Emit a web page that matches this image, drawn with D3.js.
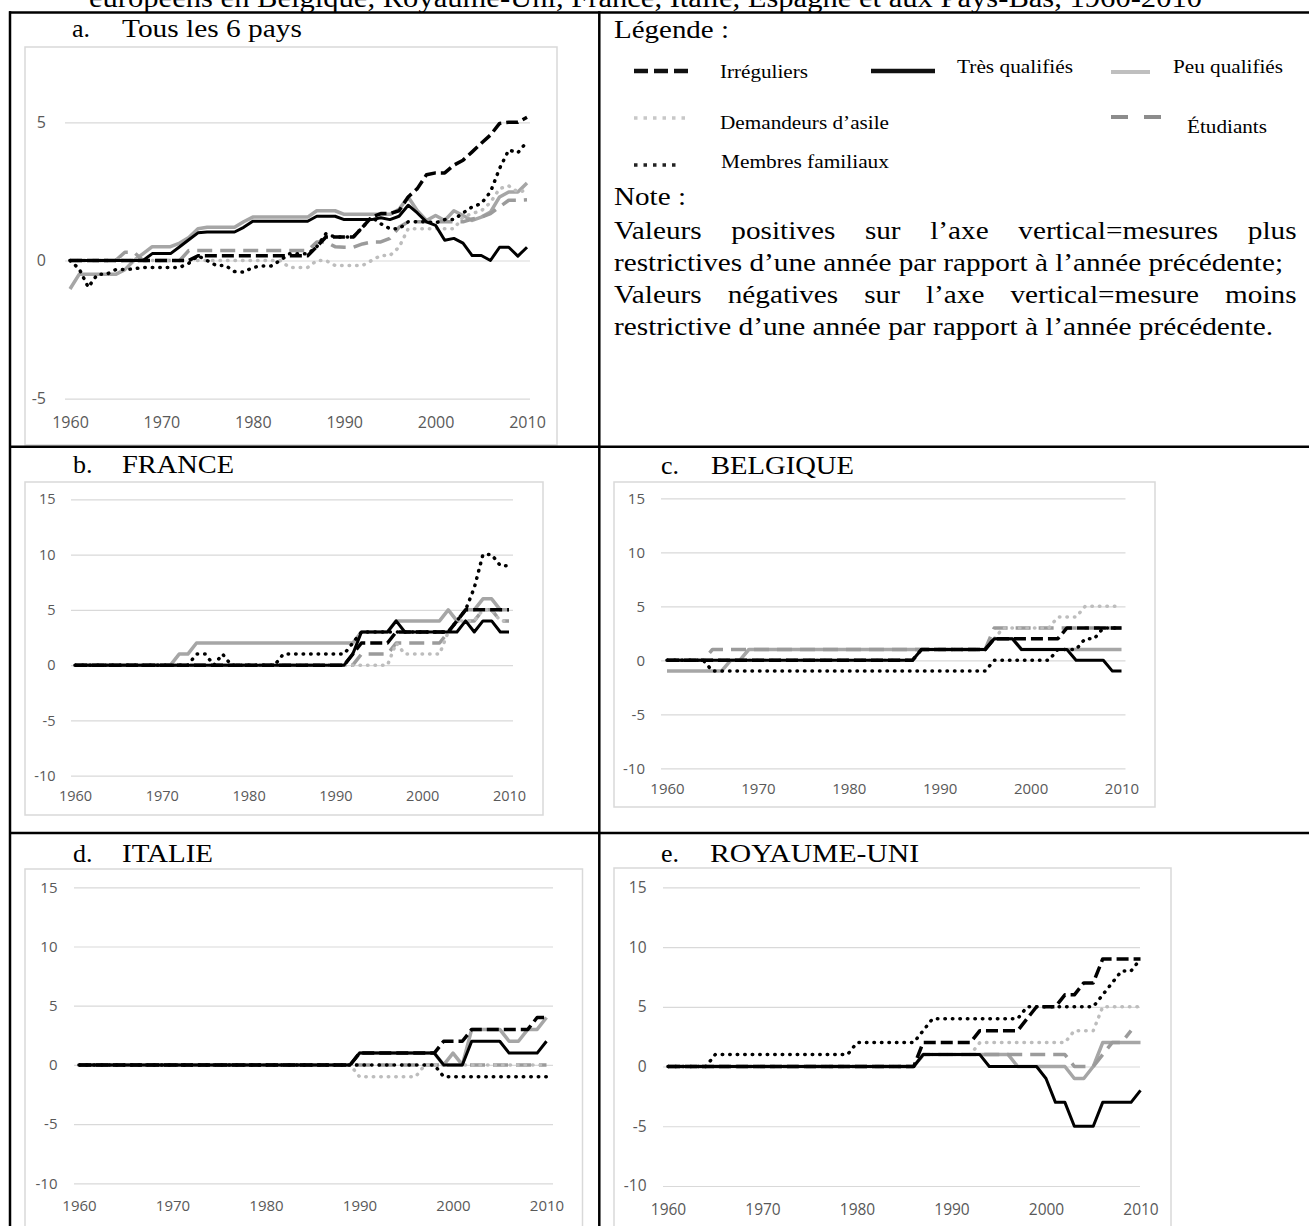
<!DOCTYPE html>
<html><head><meta charset="utf-8">
<script src="https://cdn.jsdelivr.net/npm/d3@7"></script>
<style>html,body{margin:0;padding:0;background:#fff}svg{display:block}</style>
</head><body>
<svg id="c" width="1309" height="1226"></svg>
<script>
// ---------- categories & tick labels ----------
const years = d3.range(1960, 2011);
const xTicks = [1960, 1970, 1980, 1990, 2000, 2010];
const yTicksAll = [-5, 0, 5];
const yTicksCountry = [-10, -5, 0, 5, 10, 15];
const seriesKeys = ["irr", "tq", "pq", "asile", "etu", "fam"];
const seriesNames = ["Irréguliers", "Très qualifiés", "Peu qualifiés", "Demandeurs d’asile", "Étudiants", "Membres familiaux"];

// ---------- a. Tous les 6 pays ----------
const irr_all = [0,0,0,0,0,0,0,0,0,0, 0,0,0,0,0.17,0.17,0.17,0.17,0.17,0.17, 0.17,0.17,0.17,0.17,0.17,0.17,0.17,0.5,0.85,0.85, 0.85,0.85,1.2,1.57,1.7,1.7,1.8,2.3,2.6,3.1, 3.17,3.17,3.45,3.63,3.93,4.24,4.54,4.96,5,5, 5.18];
const tq_all = [0,0,0,0,0,0,0,0,0,0.25, 0.25,0.25,0.5,0.75,1,1.03,1.03,1.03,1.03,1.2, 1.42,1.42,1.42,1.42,1.42,1.42,1.42,1.6,1.6,1.6, 1.48,1.48,1.48,1.48,1.55,1.48,1.6,2,1.72,1.4, 1.27,0.73,0.8,0.63,0.18,0.18,0,0.48,0.48,0.16, 0.48];
const pq_all = [-1.03,-0.5,-0.5,-0.5,-0.5,-0.5,-0.33,0,0.25,0.5, 0.5,0.5,0.63,0.83,1.15,1.2,1.2,1.2,1.2,1.4, 1.57,1.57,1.57,1.57,1.57,1.57,1.57,1.8,1.8,1.8, 1.67,1.67,1.67,1.67,1.67,1.67,1.85,2.3,1.8,1.45, 1.63,1.45,1.8,1.63,1.45,1.57,1.75,2.3,2.48,2.48, 2.8];
const asile_all = [0,0,0,0,0,0,0,0,0,0, 0,0,0,0,0,0,0,0,0,0, 0,0,0,0,-0.25,-0.25,-0.25,0,0,-0.18, -0.18,-0.18,-0.18,0,0.18,0.18,0.48,1.15,1.15,1.15, 1.15,1.15,1.15,1.57,1.7,1.8,2.1,2.6,2.7,2.48, 2.54];
const etu_all = [0,0,0,0,0,0,0.3,0.3,0,0, 0,0,0,0.36,0.36,0.36,0.36,0.36,0.36,0.36, 0.36,0.36,0.36,0.36,0.36,0.36,0.36,0.67,0.67,0.5, 0.48,0.48,0.6,0.67,0.67,0.8,1.2,1.4,1.4,1.4, 1.4,1.4,1.4,1.4,1.5,1.57,1.7,1.94,2.18,2.18, 2.2];
const fam_all = [0,-0.3,-0.97,-0.5,-0.5,-0.33,-0.33,-0.3,-0.25,-0.25, -0.25,-0.25,-0.25,-0.1,0.17,0,-0.18,-0.18,-0.4,-0.42, -0.25,-0.2,-0.2,0,0.24,0.24,0.24,0.5,0.97,0.85, 0.85,0.85,1.2,1.57,1.33,1.15,1.15,1.4,1.4,1.4, 1.36,1.48,1.48,1.72,1.94,2.06,2.48,3.33,4,3.9, 4.3];

// ---------- b. France ----------
const irr_fr = [0,0,0,0,0,0,0,0,0,0, 0,0,0,0,0,0,0,0,0,0, 0,0,0,0,0,0,0,0,0,0, 0,0,1,2,2,2,2,3,3,3, 3,3,3,3,4,5,5,5,5,5, 5];
const tq_fr = [0,0,0,0,0,0,0,0,0,0, 0,0,0,0,0,0,0,0,0,0, 0,0,0,0,0,0,0,0,0,0, 0,0,1,3,3,3,3,4,3,3, 3,3,3,3,3,4,3,4,4,3, 3];
const pq_fr = [0,0,0,0,0,0,0,0,0,0, 0,0,1,1,2,2,2,2,2,2, 2,2,2,2,2,2,2,2,2,2, 2,2,2,3,3,3,3,4,4,4, 4,4,4,5,4,5,5,6,6,5, 5];
const asile_fr = [0,0,0,0,0,0,0,0,0,0, 0,0,0,0,0,0,0,0,0,0, 0,0,0,0,0,0,0,0,0,0, 0,0,0,0,0,0,0,2,1,1, 1,1,1,3,4,4,4,5,5,4, 4];
const etu_fr = [0,0,0,0,0,0,0,0,0,0, 0,0,0,0,0,0,0,0,0,0, 0,0,0,0,0,0,0,0,0,0, 0,0,0,1,1,1,1,2,2,2, 2,2,2,3,4,4,4,5,5,4, 4];
const fam_fr = [0,0,0,0,0,0,0,0,0,0, 0,0,0,0,1,1,0,1,0,0, 0,0,0,0,1,1,1,1,1,1, 1,1,2,3,3,3,3,3,3,3, 3,3,3,3,4,5,7,10,10,9, 9];

// ---------- c. Belgique ----------
const irr_be = [0,0,0,0,0,0,0,0,0,0, 0,0,0,0,0,0,0,0,0,0, 0,0,0,0,0,0,0,0,1,1, 1,1,1,1,1,1,2,2,2,2, 2,2,2,2,3,3,3,3,3,3, 3];
const tq_be = [0,0,0,0,0,0,0,0,0,0, 0,0,0,0,0,0,0,0,0,0, 0,0,0,0,0,0,0,0,1,1, 1,1,1,1,1,1,2,2,2,1, 1,1,1,1,1,0,0,0,0,-1, -1];
const pq_be = [-1,-1,-1,-1,-1,-1,-1,0,0,1, 1,1,1,1,1,1,1,1,1,1, 1,1,1,1,1,1,1,1,1,1, 1,1,1,1,1,1,2,2,2,1, 1,1,1,1,1,1,1,1,1,1, 1];
const asile_be = [0,0,0,0,0,0,0,0,0,0, 0,0,0,0,0,0,0,0,0,0, 0,0,0,0,0,0,0,0,1,1, 1,1,1,1,1,1,2,3,3,3, 3,3,3,4,4,4,5,5,5,5, 5];
const etu_be = [0,0,0,0,0,1,1,1,1,1, 1,1,1,1,1,1,1,1,1,1, 1,1,1,1,1,1,1,1,1,1, 1,1,1,1,1,1,3,3,3,3, 3,3,3,3,3,3,3,3,3,3, 3];
const fam_be = [0,0,0,0,0,-1,-1,-1,-1,-1, -1,-1,-1,-1,-1,-1,-1,-1,-1,-1, -1,-1,-1,-1,-1,-1,-1,-1,-1,-1, -1,-1,-1,-1,-1,-1,0,0,0,0, 0,0,0,1,1,1,2,2,3,3, 3];

// ---------- d. Italie ----------
const irr_it = [0,0,0,0,0,0,0,0,0,0, 0,0,0,0,0,0,0,0,0,0, 0,0,0,0,0,0,0,0,0,0, 1,1,1,1,1,1,1,1,1,2, 2,2,3,3,3,3,3,3,3,4, 4];
const tq_it = [0,0,0,0,0,0,0,0,0,0, 0,0,0,0,0,0,0,0,0,0, 0,0,0,0,0,0,0,0,0,0, 1,1,1,1,1,1,1,1,1,0, 0,0,2,2,2,2,1,1,1,1, 2];
const pq_it = [0,0,0,0,0,0,0,0,0,0, 0,0,0,0,0,0,0,0,0,0, 0,0,0,0,0,0,0,0,0,0, 1,1,1,1,1,1,1,1,1,0, 1,0,3,3,3,3,2,2,3,3, 4];
const asile_it = [0,0,0,0,0,0,0,0,0,0, 0,0,0,0,0,0,0,0,0,0, 0,0,0,0,0,0,0,0,0,0, -1,-1,-1,-1,-1,-1,-1,0,0,0, 0,0,0,0,0,0,0,0,0,0, 0];
const etu_it = [0,0,0,0,0,0,0,0,0,0, 0,0,0,0,0,0,0,0,0,0, 0,0,0,0,0,0,0,0,0,0, 0,0,0,0,0,0,0,0,0,0, 0,0,0,0,0,0,0,0,0,0, 0];
const fam_it = [0,0,0,0,0,0,0,0,0,0, 0,0,0,0,0,0,0,0,0,0, 0,0,0,0,0,0,0,0,0,0, 0,0,0,0,0,0,0,0,0,-1, -1,-1,-1,-1,-1,-1,-1,-1,-1,-1, -1];

// ---------- e. Royaume-Uni ----------
const irr_uk = [0,0,0,0,0,0,0,0,0,0, 0,0,0,0,0,0,0,0,0,0, 0,0,0,0,0,0,0,2,2,2, 2,2,2,3,3,3,3,3,4,5, 5,5,6,6,7,7,9,9,9,9, 9];
const tq_uk = [0,0,0,0,0,0,0,0,0,0, 0,0,0,0,0,0,0,0,0,0, 0,0,0,0,0,0,0,1,1,1, 1,1,1,1,0,0,0,0,0,0, -1,-3,-3,-5,-5,-5,-3,-3,-3,-3, -2];
const pq_uk = [0,0,0,0,0,0,0,0,0,0, 0,0,0,0,0,0,0,0,0,0, 0,0,0,0,0,0,0,1,1,1, 1,1,1,1,1,1,1,0,0,0, 0,0,0,-1,-1,0,2,2,2,2, 2];
const asile_uk = [0,0,0,0,0,0,0,0,0,0, 0,0,0,0,0,0,0,0,0,0, 0,0,0,0,0,0,0,1,1,1, 1,1,1,2,2,2,2,2,2,2, 2,2,2,3,3,3,5,5,5,5, 5];
const etu_uk = [0,0,0,0,0,0,0,0,0,0, 0,0,0,0,0,0,0,0,0,0, 0,0,0,0,0,0,0,1,1,1, 1,1,1,1,1,1,1,1,1,1, 1,1,1,0,0,0,1,2,2,3, null];
const fam_uk = [0,0,0,0,0,1,1,1,1,1, 1,1,1,1,1,1,1,1,1,1, 2,2,2,2,2,2,2,3,4,4, 4,4,4,4,4,4,4,4,5,5, 5,5,5,5,5,5,6,7,8,8, 9];

// ---------- drawing ----------
const svg = d3.select("#c");
svg.append("rect").attr("width", 1309).attr("height", 1226).attr("fill", "#fff");
const SERIF = '"Liberation Serif","Times New Roman",serif';
const SANS = '"Open Sans","Noto Sans",sans-serif';

function txt(g, str, x, y, size, width) {
  const t = g.append("text").attr("x", x).attr("y", y)
    .attr("font-family", SERIF).attr("font-size", size).attr("fill", "#000").text(str);
  if (width) t.attr("textLength", width).attr("lengthAdjust", "spacingAndGlyphs");
  return t;
}

// title (cut off at the top, as in the source page)
txt(svg, "européens en Belgique, Royaume-Uni, France, Italie, Espagne et aux Pays-Bas, 1960-2010", 89, 7, 27, 1113);

// series styles
const styles = {
  pq:    {color: "#a6a6a6", width: 3.5, dash: null, cap: "butt"},
  etu:   {color: "#9b9b9b", width: 3.5, dash: "15,8", cap: "butt"},
  asile: {color: "#bdbdbd", width: 3.5, dash: "0.5,7", cap: "round"},
  tq:    {color: "#000000", width: 3,   dash: null, cap: "butt"},
  irr:   {color: "#000000", width: 3.5, dash: "12,5", cap: "butt"},
  fam:   {color: "#000000", width: 3.5, dash: "0.5,7", cap: "round"}
};
const drawOrder = ["pq", "etu", "asile", "tq", "irr", "fam"];

const panels = [
  {lab: "a.", name: "Tous les 6 pays", lx: 72, nx: 122, nw: 180, hy: 37,
   box: [25, 47, 557, 445], xr: [70, 527], yd: [-5, 5], yr: [398.7, 122.3], ticks: yTicksAll,
   gx: [65, 530], pad: 19, xTop: 417, fs: 16,
   data: {irr: irr_all, tq: tq_all, pq: pq_all, asile: asile_all, etu: etu_all, fam: fam_all}},
  {lab: "b.", name: "FRANCE", lx: 73, nx: 122, nw: 112, hy: 473,
   box: [25, 482, 543, 815], xr: [75, 509], yd: [-10, 15], yr: [775.7, 499.3], ticks: yTicksCountry,
   gx: [71, 513], pad: 15.5, xTop: 791, fs: 14.5,
   data: {irr: irr_fr, tq: tq_fr, pq: pq_fr, asile: asile_fr, etu: etu_fr, fam: fam_fr}},
  {lab: "c.", name: "BELGIQUE", lx: 661, nx: 711, nw: 143, hy: 474,
   box: [614, 482, 1155, 807], xr: [667, 1121.5], yd: [-10, 15], yr: [768.3, 498.3], ticks: yTicksCountry,
   gx: [661, 1125.5], pad: 16, xTop: 783, fs: 15,
   data: {irr: irr_be, tq: tq_be, pq: pq_be, asile: asile_be, etu: etu_be, fam: fam_be}},
  {lab: "d.", name: "ITALIE", lx: 73, nx: 122, nw: 91, hy: 862,
   box: [25, 869, 582.5, 1240], xr: [79, 546.5], yd: [-10, 15], yr: [1183.3, 887.3], ticks: yTicksCountry,
   gx: [74, 553], pad: 16.5, xTop: 1200, fs: 15,
   data: {irr: irr_it, tq: tq_it, pq: pq_it, asile: asile_it, etu: etu_it, fam: fam_it}},
  {lab: "e.", name: "ROYAUME-UNI", lx: 661, nx: 710, nw: 209, hy: 862,
   box: [614, 868, 1171, 1240], xr: [668, 1140.5], yd: [-10, 15], yr: [1186, 887.3], ticks: yTicksCountry,
   gx: [663, 1140], pad: 16.5, xTop: 1204, fs: 15.5,
   data: {irr: irr_uk, tq: tq_uk, pq: pq_uk, asile: asile_uk, etu: etu_uk, fam: fam_uk}}
];

panels.forEach(p => {
  const g = svg.append("g");
  txt(g, p.lab, p.lx, p.hy, 26);
  txt(g, p.name, p.nx, p.hy, 26, p.nw);
  g.append("rect").attr("x", p.box[0]).attr("y", p.box[1])
    .attr("width", p.box[2] - p.box[0]).attr("height", p.box[3] - p.box[1])
    .attr("fill", "none").attr("stroke", "#d9d9d9").attr("stroke-width", 1.5);

  const x = d3.scaleLinear().domain([1960, 2010]).range(p.xr);
  const y = d3.scaleLinear().domain(p.yd).range(p.yr);

  g.append("g").attr("transform", `translate(${p.gx[0]},0)`)
    .call(d3.axisLeft(y).tickValues(p.ticks).tickSize(-(p.gx[1] - p.gx[0])).tickPadding(p.pad).tickFormat(d => String(d)))
    .call(a => {
      a.select(".domain").remove();
      a.selectAll(".tick line").attr("stroke", "#d9d9d9").attr("stroke-width", 1.2);
      a.selectAll(".tick text").attr("font-family", SANS).attr("font-size", p.fs).attr("fill", "#595959");
    });
  g.append("g").attr("transform", `translate(0,${p.xTop})`)
    .call(d3.axisBottom(x).tickValues(xTicks).tickSize(0).tickPadding(0).tickFormat(d => String(d)))
    .call(a => {
      a.select(".domain").remove();
      a.selectAll(".tick text").attr("font-family", SANS).attr("font-size", p.fs).attr("fill", "#595959");
    });

  const line = d3.line().defined(d => d[1] !== null).x(d => x(d[0])).y(d => y(d[1]));
  drawOrder.forEach(k => {
    const s = styles[k];
    const pts = years.map((yr, i) => [yr, p.data[k][i]]);
    g.append("path").attr("d", line(pts)).attr("fill", "none")
      .attr("stroke", s.color).attr("stroke-width", s.width)
      .attr("stroke-dasharray", s.dash).attr("stroke-linecap", s.cap)
      .attr("stroke-linejoin", "round");
  });
});

// ---------- legend ----------
const lg = svg.append("g");
txt(lg, "Légende :", 614, 38, 26, 115);
const legendItems = [
  {k: "irr", x1: 634, x2: 688, ly: 71, tx: 720, ty: 78, tw: 88, dash: "14,6", w: 4.5, c: "#111"},
  {k: "tq", x1: 871, x2: 935, ly: 71, tx: 957, ty: 73, tw: 116, dash: null, w: 4.5, c: "#111"},
  {k: "pq", x1: 1111, x2: 1150, ly: 72, tx: 1173, ty: 73, tw: 110, dash: null, w: 4, c: "#bfbfbf"},
  {k: "asile", x1: 634, x2: 688, ly: 118, tx: 720, ty: 129, tw: 169, dash: "3.5,6", w: 3.5, c: "#c8c8c8"},
  {k: "etu", x1: 1111, x2: 1161, ly: 117, tx: 1187, ty: 133, tw: 80, dash: "17,16", w: 4, c: "#8c8c8c"},
  {k: "fam", x1: 634, x2: 680, ly: 165, tx: 721, ty: 168, tw: 168, dash: "3.5,6", w: 3.5, c: "#222"}
];
legendItems.forEach(it => {
  lg.append("line").attr("x1", it.x1).attr("x2", it.x2).attr("y1", it.ly).attr("y2", it.ly)
    .attr("stroke", it.c).attr("stroke-width", it.w).attr("stroke-dasharray", it.dash);
  txt(lg, seriesNames[seriesKeys.indexOf(it.k)], it.tx, it.ty, 18, it.tw);
});
txt(lg, "Note :", 614, 205, 26, 72);

const noteLines = [
  {t: "Valeurs positives sur l’axe vertical=mesures plus", y: 239, w: 683, just: true},
  {t: "restrictives d’une année par rapport à l’année précédente;", y: 271, w: 669, just: false},
  {t: "Valeurs négatives sur l’axe vertical=mesure moins", y: 303, w: 683, just: true},
  {t: "restrictive d’une année par rapport à l’année précédente.", y: 335, w: 659, just: false}
];
const NFS = 26;
const nat = noteLines.map(l => {
  const t = svg.append("text").attr("font-family", SERIF).attr("font-size", NFS).text(l.t);
  const w = t.node().getComputedTextLength(); t.remove(); return w;
});
const kx = (noteLines[1].w / nat[1] + noteLines[3].w / nat[3]) / 2;
noteLines.forEach((l, i) => {
  const t = lg.append("text").attr("font-family", SERIF).attr("font-size", NFS).attr("fill", "#000")
    .attr("transform", `translate(614,${l.y}) scale(${kx},1)`).attr("x", 0).attr("y", 0).text(l.t);
  if (l.just) {
    const n = (l.t.match(/ /g) || []).length;
    t.attr("word-spacing", (l.w / kx - nat[i]) / n);
  } else {
    t.attr("textLength", l.w / kx).attr("lengthAdjust", "spacingAndGlyphs");
  }
});

// ---------- table borders ----------
const tb = svg.append("g").attr("stroke", "#000").attr("stroke-width", 2.5);
tb.append("line").attr("x1", 9).attr("x2", 1309).attr("y1", 12.5).attr("y2", 12.5);
tb.append("line").attr("x1", 9).attr("x2", 1309).attr("y1", 446.7).attr("y2", 446.7);
tb.append("line").attr("x1", 9).attr("x2", 1309).attr("y1", 833).attr("y2", 833);
tb.append("line").attr("x1", 10).attr("x2", 10).attr("y1", 11.3).attr("y2", 1226);
tb.append("line").attr("x1", 599.3).attr("x2", 599.3).attr("y1", 11.3).attr("y2", 1226);
</script>
</body></html>
